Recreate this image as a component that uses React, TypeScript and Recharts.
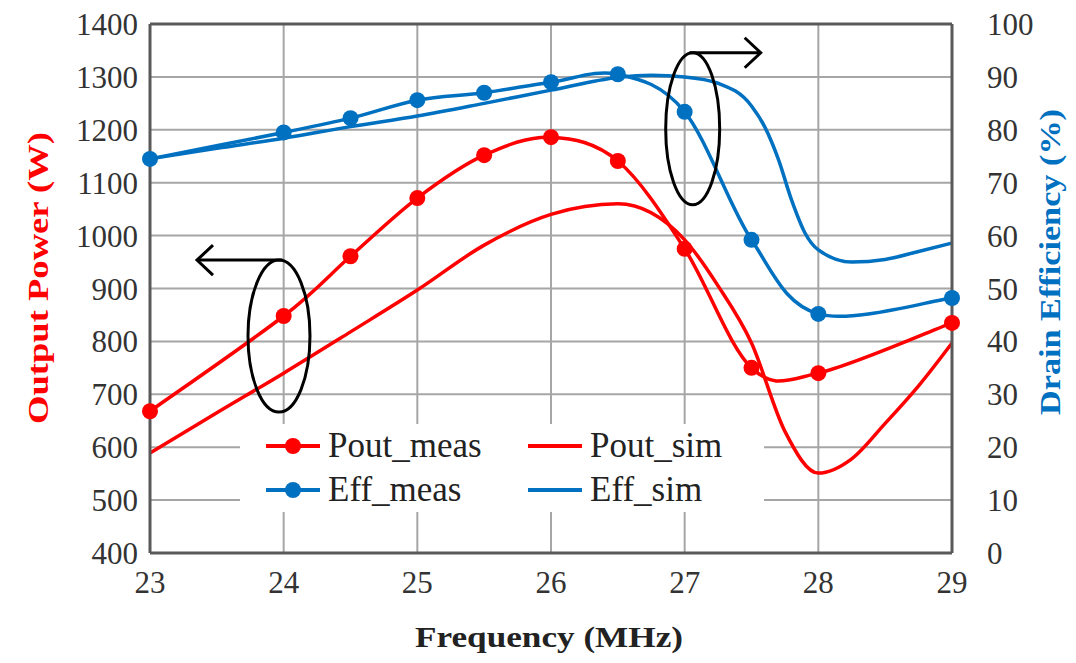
import {
  CartesianGrid,
  Label,
  Line,
  LineChart,
  ReferenceDot,
  ReferenceLine,
  XAxis,
  YAxis,
} from "recharts"

const freqMeas = [23, 24, 24.5, 25, 25.5, 26, 26.5, 27, 27.5, 28, 29]
const poutMeas = [668, 848, 961, 1071, 1152, 1186, 1141, 975, 750, 740, 835]
const effMeas = [74.5, 79.5, 82.2, 85.6, 87, 89, 90.5, 83.4, 59.2, 45.2, 48.2]

const freqPoutSim = [23, 23.5, 24, 24.5, 25, 25.5, 26, 26.5, 27, 27.25, 27.5, 27.75, 28, 28.25, 28.5, 28.75, 29]
const poutSim = [589, 665, 740, 818, 897, 982, 1040, 1060, 992, 905, 797, 630, 551, 578, 645, 716, 797]

const freqEffSim = [23, 23.5, 24, 24.5, 25, 25.5, 26, 26.5, 26.75, 27, 27.25, 27.5, 27.6, 27.7, 27.8, 27.9, 28, 28.25, 28.5, 28.75, 29]
const effSim = [74.5, 76.5, 78.4, 80.6, 82.6, 85, 87.5, 89.9, 90.3, 90, 88.8, 84.5, 80.5, 74.5, 66.7, 60.5, 57.3, 55, 55.5, 57, 58.6]

const freqTicks = [23, 24, 25, 26, 27, 28, 29]
const powerTicks = [400, 500, 600, 700, 800, 900, 1000, 1100, 1200, 1300, 1400]
const effTicks = [0, 10, 20, 30, 40, 50, 60, 70, 80, 90, 100]

const RED = "#ff0000"
const BLUE = "#0070c0"
const FONT = '"Liberation Serif", "Times New Roman", serif'

const poutMeasData = freqMeas.map((f, i) => ({ f, v: poutMeas[i] }))
const effMeasData = freqMeas.map((f, i) => ({ f, v: effMeas[i] }))
const poutSimData = freqPoutSim.map((f, i) => ({ f, v: poutSim[i] }))
const effSimData = freqEffSim.map((f, i) => ({ f, v: effSim[i] }))

const tickStyle = { fill: "#333", fontSize: 31, fontFamily: FONT }

// excel-like smoothed line (catmull-rom style bezier)
function excelCurve(context: any) {
  let pts: number[][] = []
  return {
    areaStart() {},
    areaEnd() {},
    lineStart() {
      pts = []
    },
    point(x: number, y: number) {
      pts.push([+x, +y])
    },
    lineEnd() {
      const n = pts.length
      if (!n) return
      context.moveTo(pts[0][0], pts[0][1])
      for (let i = 0; i < n - 1; i++) {
        const p0 = pts[Math.max(i - 1, 0)]
        const p1 = pts[i]
        const p2 = pts[i + 1]
        const p3 = pts[Math.min(i + 2, n - 1)]
        context.bezierCurveTo(
          p1[0] + (p2[0] - p0[0]) / 6,
          p1[1] + (p2[1] - p0[1]) / 6,
          p2[0] - (p3[0] - p1[0]) / 6,
          p2[1] - (p3[1] - p1[1]) / 6,
          p2[0],
          p2[1]
        )
      }
    },
  }
}

// ellipse + arrow annotations, anchored on data coords
function LeftMarker({ cx, cy }: any) {
  const top = cy - 76
  return (
    <g fill="none" stroke="#000" strokeWidth={3}>
      <ellipse cx={cx} cy={cy} rx={31} ry={76} />
      <path d={`M ${cx + 3} ${top} H ${cx - 82}`} />
      <path d={`M ${cx - 66} ${top - 15} L ${cx - 82} ${top} L ${cx - 66} ${top + 15}`} />
    </g>
  )
}

function RightMarker({ cx, cy }: any) {
  const top = cy - 76
  return (
    <g fill="none" stroke="#000" strokeWidth={3}>
      <ellipse cx={cx} cy={cy} rx={27} ry={76} />
      <path d={`M ${cx - 3} ${top} H ${cx + 68}`} />
      <path d={`M ${cx + 52} ${top - 15} L ${cx + 68} ${top} L ${cx + 52} ${top + 15}`} />
    </g>
  )
}

function LegendItem({ color, dot, label }: { color: string; dot: boolean; label: string }) {
  return (
    <div style={{ display: "flex", alignItems: "center", height: 43 }}>
      <svg width={58} height={20}>
        <line x1={2} y1={10} x2={56} y2={10} stroke={color} strokeWidth={4} />
        {dot && <circle cx={29} cy={10} r={8} fill={color} />}
      </svg>
      <span style={{ marginLeft: 6, fontSize: 35, fontFamily: FONT, color: "#222" }}>{label}</span>
    </div>
  )
}

function AxisTitle({ x, y, rotate, len, color, text }: any) {
  return (
    <text
      x={x}
      y={y}
      transform={rotate ? `rotate(-90 ${x} ${y})` : undefined}
      textAnchor="middle"
      dominantBaseline="central"
      fontFamily={FONT}
      fontWeight="bold"
      fontSize={30}
      fill={color}
      textLength={len}
      lengthAdjust="spacingAndGlyphs"
    >
      {text}
    </text>
  )
}

export default function App() {
  return (
    <div style={{ position: "absolute", left: 0, top: 0, width: 1076, height: 663, background: "#fff" }}>
      <LineChart width={1076} height={663} margin={{ top: 24, right: 44, left: 70, bottom: 50 }}>
        <CartesianGrid
          yAxisId="left"
          stroke="#a6a6a6"
          strokeWidth={2}
          horizontalValues={powerTicks}
          verticalValues={freqTicks}
        />
        <XAxis
          dataKey="f"
          type="number"
          domain={[23, 29]}
          ticks={freqTicks}
          allowDuplicatedCategory={false}
          height={60}
          tickSize={0}
          tickMargin={18}
          tick={tickStyle}
          axisLine={{ stroke: "#595959", strokeWidth: 3 }}
        >
          <Label
            content={() => (
              <AxisTitle x={549} y={636} len={268} color="#222" text="Frequency (MHz)" />
            )}
          />
        </XAxis>
        <YAxis
          yAxisId="left"
          type="number"
          domain={[400, 1400]}
          ticks={powerTicks}
          width={80}
          tickSize={0}
          tickMargin={12}
          tick={tickStyle}
          axisLine={{ stroke: "#595959", strokeWidth: 3 }}
        >
          <Label
            content={() => (
              <AxisTitle x={37} y={278} rotate len={292} color={RED} text="Output Power (W)" />
            )}
          />
        </YAxis>
        <YAxis
          yAxisId="right"
          orientation="right"
          type="number"
          domain={[0, 100]}
          ticks={effTicks}
          width={80}
          tickSize={0}
          tickMargin={35}
          tick={tickStyle}
          axisLine={{ stroke: "#595959", strokeWidth: 3 }}
        >
          <Label
            content={() => (
              <AxisTitle x={1049} y={262} rotate len={306} color={BLUE} text="Drain Efficiency (%)" />
            )}
          />
        </YAxis>
        <ReferenceLine yAxisId="left" y={1400} stroke="#595959" strokeWidth={3} />

        <Line
          yAxisId="left"
          data={poutSimData}
          dataKey="v"
          type="monotone"
          stroke={RED}
          strokeWidth={3.5}
          dot={false}
          isAnimationActive={false}
        />
        <Line
          yAxisId="right"
          data={effSimData}
          dataKey="v"
          type="monotone"
          stroke={BLUE}
          strokeWidth={3.5}
          dot={false}
          isAnimationActive={false}
        />
        <Line
          yAxisId="left"
          data={poutMeasData}
          dataKey="v"
          type={excelCurve as any}
          stroke={RED}
          strokeWidth={3.5}
          dot={{ r: 8, fill: RED, stroke: RED, strokeWidth: 0 }}
          isAnimationActive={false}
        />
        <Line
          yAxisId="right"
          data={effMeasData}
          dataKey="v"
          type={excelCurve as any}
          stroke={BLUE}
          strokeWidth={3.5}
          dot={{ r: 8, fill: BLUE, stroke: BLUE, strokeWidth: 0 }}
          isAnimationActive={false}
        />

        <ReferenceDot yAxisId="left" x={23.965} y={810} r={0} shape={(p: any) => <LeftMarker {...p} />} />
        <ReferenceDot yAxisId="right" x={27.06} y={80.2} r={0} shape={(p: any) => <RightMarker {...p} />} />
      </LineChart>

      <div
        style={{
          position: "absolute",
          left: 240,
          top: 424,
          width: 524,
          height: 88,
          background: "#fff",
          display: "grid",
          gridTemplateColumns: "262px 262px",
          paddingLeft: 24,
          boxSizing: "border-box",
        }}
      >
        <LegendItem color={RED} dot label="Pout_meas" />
        <LegendItem color={RED} dot={false} label="Pout_sim" />
        <LegendItem color={BLUE} dot label="Eff_meas" />
        <LegendItem color={BLUE} dot={false} label="Eff_sim" />
      </div>
    </div>
  )
}
